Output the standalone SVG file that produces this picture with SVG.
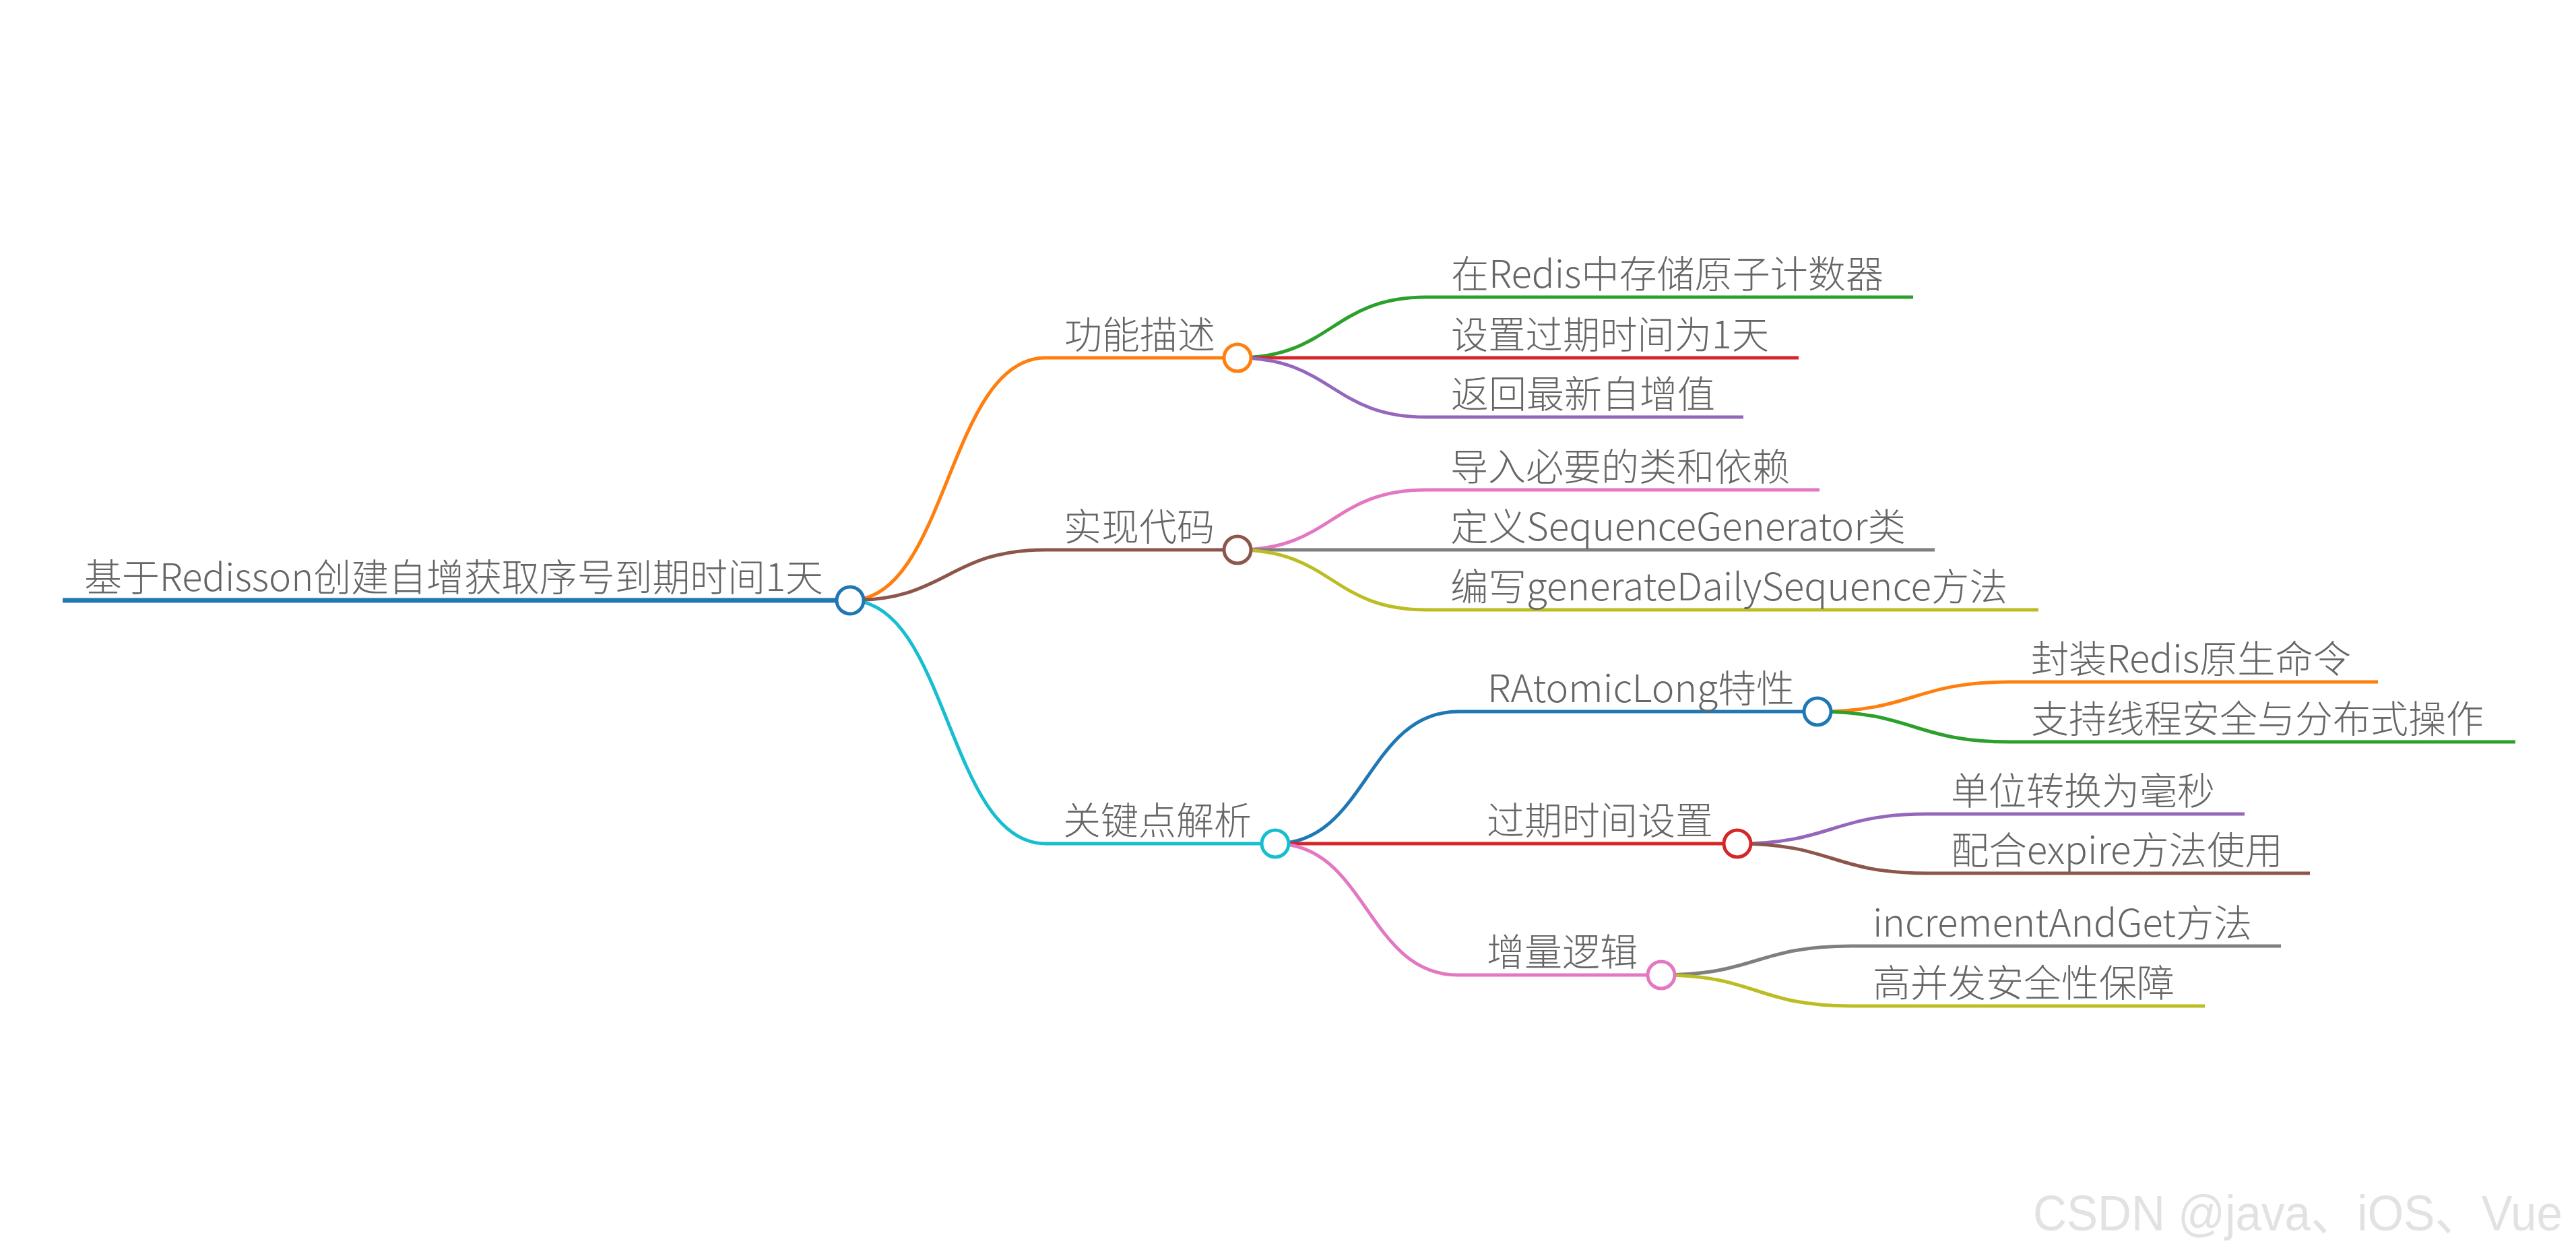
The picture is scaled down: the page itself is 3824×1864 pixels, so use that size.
<svg xmlns="http://www.w3.org/2000/svg" width="3824" height="1864" viewBox="0 0 3824 1864">
<style>
.t{font-family:"Noto Sans CJK SC","Microsoft YaHei",sans-serif;font-size:56px;font-weight:300;fill:#666666}
.l{fill:none;stroke-width:5;stroke-linecap:butt}
.c{fill:#ffffff;stroke-width:5}
.wm{font-family:"Liberation Sans","Noto Sans CJK SC",sans-serif;font-size:74px;fill:#e2e2e2}
</style>
<rect width="3824" height="1864" fill="#ffffff"/>
<g id="connectors" class="l">
<path stroke="#ff7f0e" d="M1262 891 C1407 891 1407 531 1552 531"/>
<path stroke="#8c564b" d="M1262 891 C1407 891 1407 816 1552 816"/>
<path stroke="#17becf" d="M1262 891 C1407 891 1407 1252 1552 1252"/>
<path stroke="#2ca02c" d="M1837 531 C1977 531 1977 441 2117 441"/>
<path stroke="#d62728" d="M1837 531 L2117 531"/>
<path stroke="#9467bd" d="M1837 531 C1977 531 1977 619 2117 619"/>
<path stroke="#e377c2" d="M1837 816 C1977 816 1977 727 2117 727"/>
<path stroke="#7f7f7f" d="M1837 816 L2117 816"/>
<path stroke="#bcbd22" d="M1837 816 C1977 816 1977 905 2117 905"/>
<path stroke="#1f77b4" d="M1893 1252 C2029 1252 2029 1056 2165 1056"/>
<path stroke="#d62728" d="M1893 1252 L2165 1252"/>
<path stroke="#e377c2" d="M1893 1252 C2029 1252 2029 1447 2165 1447"/>
<path stroke="#ff7f0e" d="M2698 1056 C2841 1056 2841 1012 2984 1012"/>
<path stroke="#2ca02c" d="M2698 1056 C2841 1056 2841 1101 2984 1101"/>
<path stroke="#9467bd" d="M2579 1252 C2720 1252 2720 1208 2861 1208"/>
<path stroke="#8c564b" d="M2579 1252 C2720 1252 2720 1296 2861 1296"/>
<path stroke="#7f7f7f" d="M2466 1447 C2607 1447 2607 1404 2748 1404"/>
<path stroke="#bcbd22" d="M2466 1447 C2607 1447 2607 1493 2748 1493"/>
</g>
<g id="n-c1-1" class="l"><path stroke="#2ca02c" d="M2117 441 H2840"/><text class="t" x="2154" y="427" textLength="642" lengthAdjust="spacingAndGlyphs">在Redis中存储原子计数器</text></g>
<g id="n-c1-2" class="l"><path stroke="#d62728" d="M2117 531 H2670"/><text class="t" x="2154" y="517" textLength="472" lengthAdjust="spacingAndGlyphs">设置过期时间为1天</text></g>
<g id="n-c1-3" class="l"><path stroke="#9467bd" d="M2117 619 H2588"/><text class="t" x="2154" y="605">返回最新自增值</text></g>
<g id="n-c2-1" class="l"><path stroke="#e377c2" d="M2117 727 H2701"/><text class="t" x="2153" y="713">导入必要的类和依赖</text></g>
<g id="n-c2-2" class="l"><path stroke="#7f7f7f" d="M2117 816 H2872"/><text class="t" x="2153" y="802" textLength="676" lengthAdjust="spacingAndGlyphs">定义SequenceGenerator类</text></g>
<g id="n-c2-3" class="l"><path stroke="#bcbd22" d="M2117 905 H3026"/><text class="t" x="2153" y="891" textLength="827" lengthAdjust="spacingAndGlyphs">编写generateDailySequence方法</text></g>
<g id="n-c3-1-1" class="l"><path stroke="#ff7f0e" d="M2984 1012 H3530"/><text class="t" x="3015" y="998" textLength="475" lengthAdjust="spacingAndGlyphs">封装Redis原生命令</text></g>
<g id="n-c3-1-2" class="l"><path stroke="#2ca02c" d="M2984 1101 H3734"/><text class="t" x="3015" y="1087">支持线程安全与分布式操作</text></g>
<g id="n-c3-2-1" class="l"><path stroke="#9467bd" d="M2861 1208 H3332"/><text class="t" x="2896" y="1194">单位转换为毫秒</text></g>
<g id="n-c3-2-2" class="l"><path stroke="#8c564b" d="M2861 1296 H3429"/><text class="t" x="2896" y="1282" textLength="493" lengthAdjust="spacingAndGlyphs">配合expire方法使用</text></g>
<g id="n-c3-3-1" class="l"><path stroke="#7f7f7f" d="M2748 1404 H3386"/><text class="t" x="2780" y="1390" textLength="563" lengthAdjust="spacingAndGlyphs">incrementAndGet方法</text></g>
<g id="n-c3-3-2" class="l"><path stroke="#bcbd22" d="M2748 1493 H3273"/><text class="t" x="2780" y="1479">高并发安全性保障</text></g>
<g id="n-c3-1" class="l"><path stroke="#1f77b4" d="M2165 1056 H2698"/><text class="t" x="2208" y="1042" textLength="456" lengthAdjust="spacingAndGlyphs">RAtomicLong特性</text><circle class="c" stroke="#1f77b4" cx="2698" cy="1056" r="20"/></g>
<g id="n-c3-2" class="l"><path stroke="#d62728" d="M2165 1252 H2579"/><text class="t" x="2207" y="1238">过期时间设置</text><circle class="c" stroke="#d62728" cx="2579" cy="1252" r="20"/></g>
<g id="n-c3-3" class="l"><path stroke="#e377c2" d="M2165 1447 H2466"/><text class="t" x="2207" y="1433">增量逻辑</text><circle class="c" stroke="#e377c2" cx="2466" cy="1447" r="20"/></g>
<g id="n-c1" class="l"><path stroke="#ff7f0e" d="M1552 531 H1837"/><text class="t" x="1580" y="517">功能描述</text><circle class="c" stroke="#ff7f0e" cx="1837" cy="531" r="20"/></g>
<g id="n-c2" class="l"><path stroke="#8c564b" d="M1552 816 H1837"/><text class="t" x="1579" y="802">实现代码</text><circle class="c" stroke="#8c564b" cx="1837" cy="816" r="20"/></g>
<g id="n-c3" class="l"><path stroke="#17becf" d="M1552 1252 H1893"/><text class="t" x="1578" y="1238">关键点解析</text><circle class="c" stroke="#17becf" cx="1893" cy="1252" r="20"/></g>
<g id="n-root" class="l"><path stroke="#1f77b4" stroke-width="7" d="M93 891 H1262"/><text class="t" x="125" y="877" textLength="1097" lengthAdjust="spacingAndGlyphs">基于Redisson创建自增获取序号到期时间1天</text><circle class="c" stroke="#1f77b4" cx="1262" cy="891" r="20"/></g>
<text class="wm" x="3018" y="1826" textLength="786" lengthAdjust="spacingAndGlyphs">CSDN @java、iOS、Vue</text>
</svg>
